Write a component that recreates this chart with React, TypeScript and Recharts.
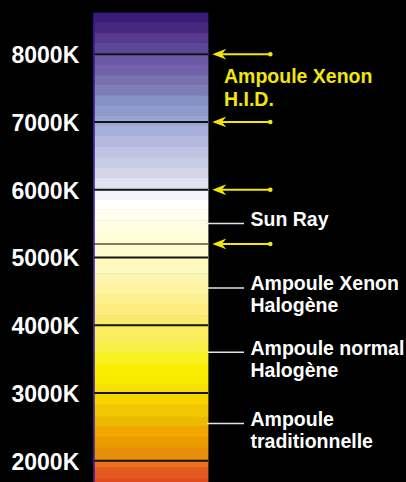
import { ComposedChart, XAxis, YAxis, ReferenceArea, ReferenceLine } from "recharts";

// colour temperature strip, read top to bottom (Kelvin)
const bandEdges = [
  8608, 8465, 8310, 8160, 8000, 7840, 7690, 7545, 7385, 7235, 7090, 6940, 6795, 6630, 6475,
  6320, 6175, 6000, 5860, 5710, 5550, 5390, 5200, 5000, 4760, 4610, 4460, 4315, 4140, 4000,
  3740, 3590, 3415, 3265, 3120, 3000, 2825, 2645, 2500, 2350, 2190, 2000, 1895, 1730, 1687,
];
const bandColors = [
  "#3b1b7a", "#47287f", "#553a8f", "#5e4797", "#6a58a2", "#7161a8", "#7870af", "#7e7db8",
  "#8591c4", "#8e9ccb", "#98a5d0", "#a6afd7", "#b3bade", "#bec4e2", "#c8cde6", "#d3d6ea",
  "#e0e2ef", "#f3f3f9", "#ffffff", "#fffef0", "#fffde4", "#fffcda", "#fefacd", "#fef7c0",
  "#fdf5b0", "#fdf3a0", "#fdf090", "#fced7c", "#fbe96c", "#faee5e", "#f9f046", "#f8f11e",
  "#f8ef00", "#f8ea00", "#f8e000", "#fad400", "#f2c600", "#ecba00", "#f3a500", "#eb9c00",
  "#e88e0a", "#e8701e", "#e45822", "#e04c20",
];

const tempTicks = [2000, 3000, 4000, 5000, 6000, 7000, 8000];
const arrowTemps = [8000, 7000, 6000, 5200];
const greyLineTemp = 5200;

const hidTemp = 7580;
const hidLabel = ["Ampoule Xenon", "H.I.D."];

const leaderTemps = [5500, 4550, 3600, 2550];
const leaderLabels = [
  ["Sun Ray"],
  ["Ampoule Xenon", "Halogène"],
  ["Ampoule normal", "Halogène"],
  ["Ampoule", "traditionnelle"],
];

const axisData = [{ x: 0 }, { x: 1 }];

const FONT = "'Liberation Sans', Arial, Helvetica, sans-serif";
const YELLOW = "#f2e60a";

function TempTick({ y, payload }: any) {
  return (
    <text x={11.5} y={y + 9} fill="#ffffff" fontSize={23} fontWeight="bold" fontFamily={FONT}>
      {`${payload.value}K`}
    </text>
  );
}

function Arrow({ viewBox }: any) {
  const x0 = viewBox.x + viewBox.width + 4.3;
  const y = viewBox.y;
  return (
    <g>
      <line x1={x0 + 9} y1={y} x2={x0 + 58} y2={y} stroke={YELLOW} strokeWidth={2} />
      <path
        d={`M${x0},${y} L${x0 + 14},${y - 5.4} L${x0 + 9.5},${y} L${x0 + 14},${y + 5.4} Z`}
        fill={YELLOW}
      />
      <circle cx={x0 + 58} cy={y} r={2.3} fill={YELLOW} />
    </g>
  );
}

function HidText({ viewBox }: any) {
  const x = viewBox.x + viewBox.width + 16;
  return (
    <text fill={YELLOW} fontSize={19.5} fontWeight="bold" fontFamily={FONT}>
      {hidLabel.map((t, i) => (
        <tspan key={i} x={x} y={viewBox.y + i * 23}>
          {t}
        </tspan>
      ))}
    </text>
  );
}

function Leader({ viewBox, lines }: any) {
  const x = viewBox.x + viewBox.width;
  const y = viewBox.y;
  return (
    <g>
      <line x1={x - 1} y1={y} x2={x + 36} y2={y} stroke="#e4e4e4" strokeWidth={1.5} />
      <text fill="#ffffff" fontSize={19.5} fontWeight="bold" fontFamily={FONT}>
        {lines.map((t: string, i: number) => (
          <tspan key={i} x={x + 42.5} y={y + 2.5 + i * 22}>
            {t}
          </tspan>
        ))}
      </text>
    </g>
  );
}

export default function App() {
  return (
    <div
      style={{ position: "absolute", left: 0, top: 0, width: 406, height: 482, background: "#000" }}
    >
      <ComposedChart
        width={406}
        height={482}
        data={axisData}
        margin={{ top: 13, right: 198, bottom: 0, left: 0 }}
      >
        <XAxis dataKey="x" type="number" domain={[0, 1]} hide />
        <YAxis
          type="number"
          domain={[1687, 8608]}
          allowDataOverflow
          ticks={tempTicks}
          interval={0}
          width={94}
          tickLine={false}
          axisLine={{ stroke: "#3a14a6", strokeWidth: 1.5 }}
          tick={<TempTick />}
        />
        {bandColors.map((c, i) => (
          <ReferenceArea
            key={`band-${i}`}
            y1={bandEdges[i + 1]}
            y2={bandEdges[i]}
            fill={c}
            fillOpacity={1}
            stroke={c}
            strokeWidth={0.8}
            ifOverflow="visible"
          />
        ))}
        {tempTicks.map((t) => (
          <ReferenceLine key={`k-${t}`} y={t} stroke="#141414" strokeWidth={2} />
        ))}
        <ReferenceLine y={greyLineTemp} stroke="#7d7b62" strokeWidth={2} />
        {arrowTemps.map((t) => (
          <ReferenceLine
            key={`arrow-${t}`}
            y={t}
            stroke="none"
            label={(props: any) => <Arrow viewBox={props.viewBox} />}
          />
        ))}
        <ReferenceLine
          y={hidTemp}
          stroke="none"
          label={(props: any) => <HidText viewBox={props.viewBox} />}
        />
        {leaderTemps.map((t, i) => (
          <ReferenceLine
            key={`leader-${t}`}
            y={t}
            stroke="none"
            label={(props: any) => <Leader viewBox={props.viewBox} lines={leaderLabels[i]} />}
          />
        ))}
      </ComposedChart>
    </div>
  );
}
